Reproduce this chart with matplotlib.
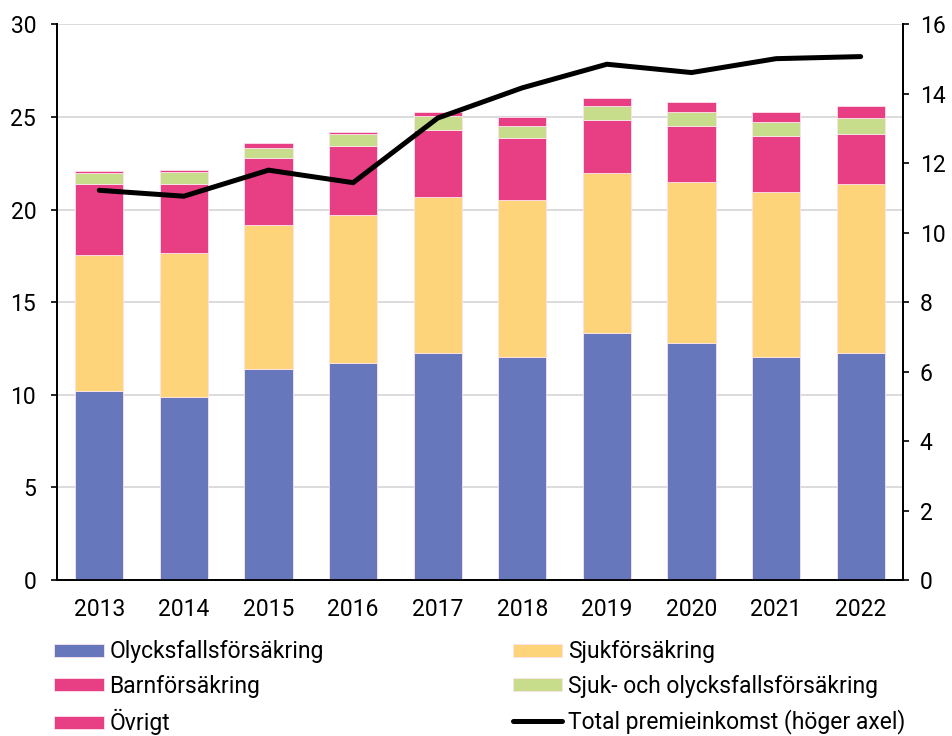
import matplotlib.pyplot as plt
import numpy as np

plt.rcParams['font.family'] = ['Roboto', 'DejaVu Sans']

years = ["2013", "2014", "2015", "2016", "2017", "2018", "2019", "2020", "2021", "2022"]
olycksfall = [10.2, 9.88, 11.39, 11.71, 12.25, 12.03, 13.33, 12.79, 12.03, 12.25]
sjuk = [7.34, 7.75, 7.75, 7.97, 8.40, 8.51, 8.62, 8.72, 8.94, 9.15]
barn = [3.83, 3.74, 3.65, 3.76, 3.65, 3.33, 2.87, 3.01, 3.01, 2.69]
sjuk_olycksfall = [0.59, 0.67, 0.54, 0.65, 0.76, 0.65, 0.77, 0.75, 0.77, 0.86]
ovrigt = [0.11, 0.12, 0.24, 0.10, 0.21, 0.45, 0.45, 0.54, 0.54, 0.64]
total = [11.22, 11.05, 11.80, 11.44, 13.3, 14.17, 14.85, 14.61, 15.01, 15.07]

series = [
    ("Olycksfallsförsäkring", olycksfall, "#6777BC"),
    ("Sjukförsäkring", sjuk, "#FED47A"),
    ("Barnförsäkring", barn, "#E83E84"),
    ("Sjuk- och olycksfallsförsäkring", sjuk_olycksfall, "#C8DD8B"),
    ("Övrigt", ovrigt, "#E83E84"),
]

fig = plt.figure(figsize=(9.53, 7.36), dpi=100)
ax = fig.add_axes([0.0598, 0.212, 0.8877, 0.755])
ax2 = ax.twinx()

x = np.arange(len(years))
bottom = np.zeros(len(years))
bars = {}
for name, vals, col in series:
    bars[name] = ax.bar(x, vals, 0.57, bottom=bottom, color=col,
                        edgecolor="#fbe3ec", linewidth=0.6, zorder=3)
    bottom += np.array(vals)

line, = ax2.plot(x, total, color="black", lw=3.6, solid_capstyle="round",
                 solid_joinstyle="miter", zorder=5)

ax.set_xlim(-0.5, 9.5)
ax.set_ylim(0, 30)
ax.set_yticks(range(0, 31, 5))
ax2.set_ylim(0, 16)
ax2.set_yticks(range(0, 17, 2))
ax.set_xticks(x)
ax.set_xticklabels(years)
ax.grid(axis="y", color="#d9d9d9", lw=1.3, zorder=0)
ax.set_axisbelow(True)

for a in (ax, ax2):
    a.spines["top"].set_visible(False)
    a.tick_params(labelsize=16.5, colors="black", width=1.2, length=4)
    for s in ("left", "right", "bottom"):
        a.spines[s].set_linewidth(1.3)
ax.tick_params(axis="x", length=0, pad=13)
ax.tick_params(axis="y", pad=11)
ax2.tick_params(axis="y", pad=8)

handles = [bars["Olycksfallsförsäkring"], bars["Sjukförsäkring"], bars["Barnförsäkring"],
           bars["Sjuk- och olycksfallsförsäkring"], bars["Övrigt"], line]
labels = ["Olycksfallsförsäkring", "Sjukförsäkring", "Barnförsäkring",
          "Sjuk- och olycksfallsförsäkring", "Övrigt", "Total premieinkomst (höger axel)"]
# rad-vis ordning i två kolumner
order = [0, 2, 4, 1, 3, 5]
fig.legend([handles[i] for i in order], [labels[i] for i in order],
           loc="upper left", bbox_to_anchor=(0.0354, 0.158), ncol=2,
           frameon=False, fontsize=16.5, handlelength=2.15, handleheight=0.5,
           handletextpad=0.25, columnspacing=8.25, labelspacing=0.5)

fig.savefig("out.png", dpi=100)
